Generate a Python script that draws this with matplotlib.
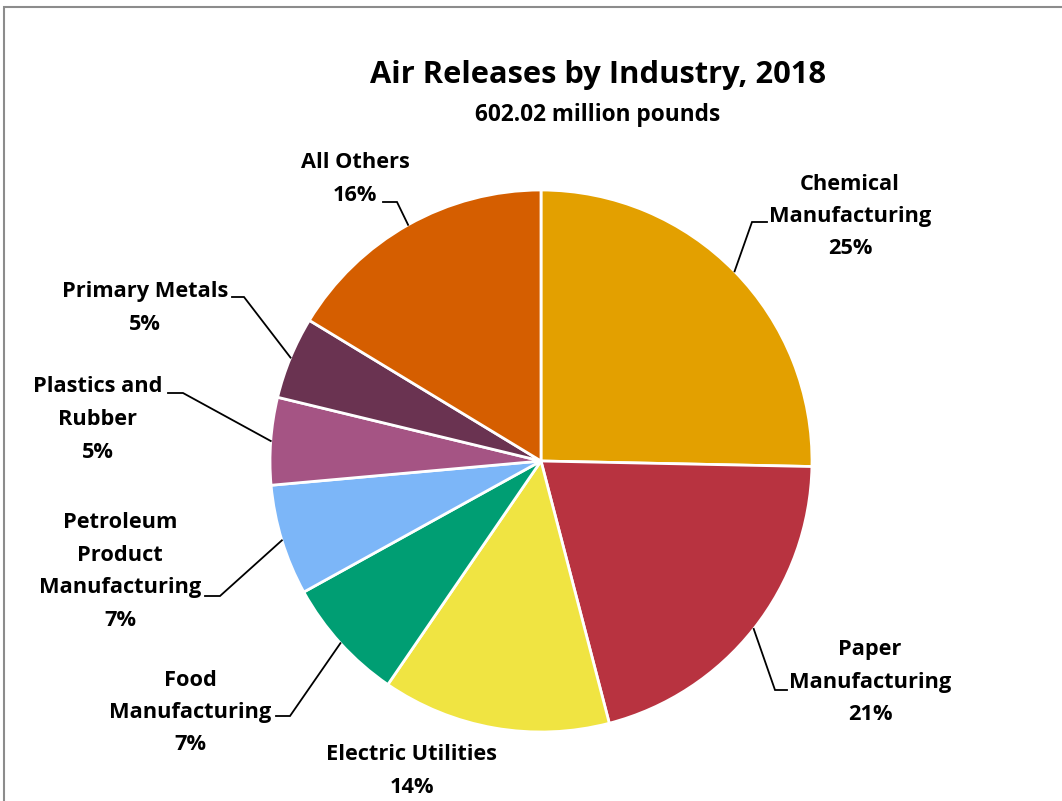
import numpy as np
import matplotlib.pyplot as plt
from matplotlib.patches import Rectangle

plt.rcParams['font.family'] = ['Open Sans', 'DejaVu Sans']
plt.rcParams['font.weight'] = 'bold'

W, H = 1062, 801

industries = ['Chemical\nManufacturing', 'Paper\nManufacturing', 'Electric Utilities',
              'Food\nManufacturing', 'Petroleum\nProduct\nManufacturing',
              'Plastics and\nRubber', 'Primary Metals', 'All Others']
shares = [25.3, 20.6, 13.6, 7.4, 6.6, 5.2, 4.9, 16.3]
colors = ['#E3A000', '#B83340', '#F0E442', '#009E73', '#7CB6F8',
          '#A55484', '#6A3351', '#D55E00']

# label centre (x, y of first line) and elbow point, in pixels from top-left
label_pos = [(850, 184), (870, 650), (412, 755), (190, 680),
             (120, 523), (98, 387), (145, 292), (355, 163)]
elbows = [(752, 222, 767), (775, 690, 787), None, (290, 716, 276),
          (220, 596, 205), (183, 393, 168), (244, 297, 232), (397, 202, 383)]

cx, cy, r = 541, 461, 271

fig = plt.figure(figsize=(W / 100, H / 100), dpi=100)
ax = fig.add_axes([0, 0, 1, 1])

wedges, _ = ax.pie(shares, colors=colors, startangle=90, counterclock=False,
                   radius=r, center=(cx, H - cy),
                   wedgeprops=dict(edgecolor='white', linewidth=2))
ax.set_xlim(0, W)
ax.set_ylim(0, H)
ax.set_aspect('equal')
ax.axis('off')

line_h = 32.5
for w, name, val, pos, elb in zip(wedges, industries, shares, label_pos, elbows):
    lines = name.split('\n') + ['%d%%' % round(val)]
    x, y0 = pos
    for i, s in enumerate(lines):
        ax.text(x, H - (y0 + i * line_h), s, ha='center', va='center',
                fontsize=15.7, fontweight='bold', color='black')
    if elb is not None:
        mid = np.deg2rad((w.theta1 + w.theta2) / 2)
        sx = cx + r * np.cos(mid)
        sy = H - cy + r * np.sin(mid)
        ex, ey, hx = elb
        ax.plot([sx, ex, hx], [sy, H - ey, H - ey], color='black', lw=1.3,
                solid_joinstyle='miter')

ax.text(598, H - 75, 'Air Releases by Industry, 2018', ha='center', va='center',
        fontsize=22.2, fontweight='bold')
ax.text(598, H - 115, '602.02 million pounds', ha='center', va='center',
        fontsize=16.3, fontweight='bold')

# outer chart frame, running off the right and bottom edges
fig.patches.append(Rectangle((3.5 / W, -0.1), 1.2, 1.1 - 7.5 / H,
                             transform=fig.transFigure, fill=False,
                             edgecolor='#8c8c8c', lw=1.5))

fig.savefig('out.png', dpi=100)
